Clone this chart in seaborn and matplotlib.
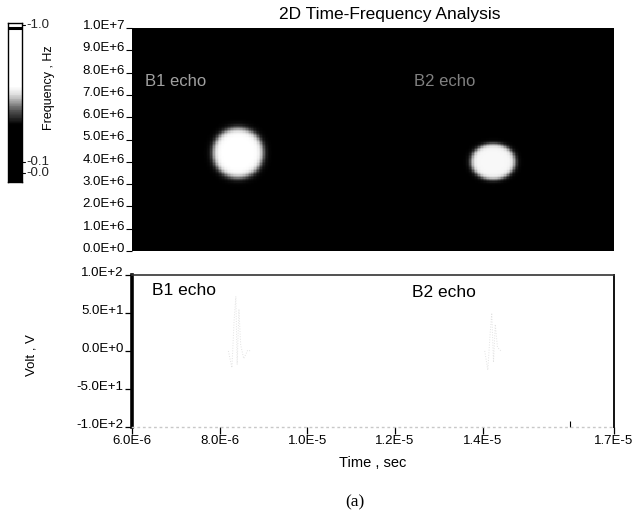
import numpy as np
import pandas as pd
import matplotlib
matplotlib.use("Agg")
import matplotlib.pyplot as plt
import matplotlib.transforms as mtransforms
from matplotlib.colors import LinearSegmentedColormap
import seaborn as sns

# ---------------- data ----------------
# time-frequency blobs (echo centres and sizes)
blob_names = ["B1 echo", "B2 echo"]
blob_time = [8.41e-6, 14.25e-6]      # sec
blob_freq = [4.40e6, 4.00e6]         # Hz
blob_rt = [0.57e-6, 0.50e-6]         # half width in time
blob_rf = [1.12e6, 0.80e6]           # half width in frequency
blob_peak = [1.0, 0.97]

# time-domain trace segments around the echoes
echo1_t = [8.20e-6, 8.28e-6, 8.33e-6, 8.37e-6, 8.40e-6, 8.44e-6, 8.48e-6, 8.55e-6, 8.64e-6, 8.72e-6]
echo1_v = [0.0, -22.0, 40.0, 72.0, -18.0, 55.0, 8.0, -10.0, 1.0, 0.0]
echo2_t = [14.05e-6, 14.12e-6, 14.17e-6, 14.21e-6, 14.25e-6, 14.29e-6, 14.34e-6, 14.42e-6]
echo2_v = [0.0, -25.0, 20.0, 50.0, -15.0, 35.0, 5.0, 0.0]

freq_ticks = [1e7, 9e6, 8e6, 7e6, 6e6, 5e6, 4e6, 3e6, 2e6, 1e6, 0.0]
freq_labels = ["1.0E+7", "9.0E+6", "8.0E+6", "7.0E+6", "6.0E+6", "5.0E+6",
               "4.0E+6", "3.0E+6", "2.0E+6", "1.0E+6", "0.0E+0"]
volt_ticks = [100, 50, 0, -50, -100]
volt_labels = ["1.0E+2", "5.0E+1", "0.0E+0", "-5.0E+1", "-1.0E+2"]
time_ticks = [6e-6, 8e-6, 1e-5, 1.2e-5, 1.4e-5, 1.7e-5]
time_labels = ["6.0E-6", "8.0E-6", "1.0E-5", "1.2E-5", "1.4E-5", "1.7E-5"]
cbar_ticks = [0.987, 0.126, 0.057]
cbar_labels = ["-1.0", "-0.1", "-0.0"]

T0, T1 = 6e-6, 1.7e-5
F0, F1 = 0.0, 1e7

# ---------------- figure ----------------
sns.set_theme(style="white")
plt.rcParams["font.family"] = ["Liberation Sans", "DejaVu Sans"]
fig = plt.figure(figsize=(6.38, 5.15), dpi=100)

ax_tf = fig.add_axes([132/638, 1-251/515, 482/638, 223/515])
ax_v = fig.add_axes([132/638, 1-427/515, 482/638, 152/515])
ax_cb = fig.add_axes([8/638, 1-182/515, 14/638, 159/515])

# --- time-frequency map via seaborn heatmap ---
nx, ny = 320, 160
tt = np.linspace(T0, T1, nx)
ff = np.linspace(F1, F0, ny)
TT, FF = np.meshgrid(tt, ff)
field = np.zeros_like(TT)
for tc, fc, rt, rf, pk in zip(blob_time, blob_freq, blob_rt, blob_rf, blob_peak):
    r = np.sqrt(((TT - tc) / rt) ** 2 + ((FF - fc) / rf) ** 2)
    field = np.maximum(field, pk / (1 + np.exp((r - 1) / 0.07)))

sns.heatmap(field, ax=ax_tf, cmap="gray", vmin=0, vmax=1, cbar=False,
            xticklabels=False, yticklabels=False, rasterized=True)

def tx(t):
    return (t - T0) / (T1 - T0) * nx

def fy(f):
    return (F1 - f) / (F1 - F0) * ny

ax_tf.set_yticks([fy(f) for f in freq_ticks])
ax_tf.set_yticklabels(freq_labels)
ax_tf.set_xticks([])
ax_tf.tick_params(axis="y", left=True, length=4, width=0.8, color="black",
                  labelsize=9.5, pad=1, labelcolor="black")
for lab in ax_tf.get_yticklabels():
    lab.set_transform(lab.get_transform() +
                      mtransforms.ScaledTranslation(0, 0.035, fig.dpi_scale_trans))
for s in ax_tf.spines.values():
    s.set_visible(False)
ax_tf.set_xlim(0, nx)
ax_tf.set_ylim(ny, 0)

ax_tf.text(tx(6.3e-6), fy(7.6e6), "B1 echo", color="#a0a0a0", fontsize=12,
           va="center", ha="left")
ax_tf.text(tx(12.43e-6), fy(7.6e6), "B2 echo", color="#808080", fontsize=12,
           va="center", ha="left")

# --- voltage trace ---
d1 = pd.DataFrame({"t": echo1_t, "v": echo1_v})
d2 = pd.DataFrame({"t": echo2_t, "v": echo2_v})
sns.lineplot(data=d1, x="t", y="v", ax=ax_v, color="#e2e2e2", lw=0.7, linestyle=":")
sns.lineplot(data=d2, x="t", y="v", ax=ax_v, color="#e2e2e2", lw=0.7, linestyle=":")
ax_v.set_xlim(T0, T1)
ax_v.set_ylim(-100, 100)
ax_v.set_xticks(time_ticks)
ax_v.set_xticklabels(time_labels)
ax_v.set_xticks([1.6e-5], minor=True)
ax_v.set_yticks(volt_ticks)
ax_v.set_yticklabels(volt_labels)
ax_v.tick_params(axis="both", which="major", length=5, width=0.9, color="black",
                 labelsize=9.5, pad=1, labelcolor="black", bottom=True, left=True)
ax_v.tick_params(axis="x", which="minor", length=4, width=0.8, direction="in",
                 color="black", bottom=True)
for lab in ax_v.get_yticklabels():
    lab.set_transform(lab.get_transform() +
                      mtransforms.ScaledTranslation(0, 0.03, fig.dpi_scale_trans))
ax_v.set_xlabel("")
ax_v.set_ylabel("")
ax_v.grid(False)
ax_v.spines["left"].set_linewidth(2.6)
ax_v.spines["left"].set_color("black")
ax_v.spines["right"].set_linewidth(1.4)
ax_v.spines["right"].set_color("#111111")
ax_v.spines["top"].set_linewidth(1.2)
ax_v.spines["top"].set_color("#333333")
ax_v.spines["bottom"].set_linewidth(1.0)
ax_v.spines["bottom"].set_color("#c8c8c8")
ax_v.spines["bottom"].set_linestyle((0, (1, 3)))

ax_v.text(6.45e-6, 80, "B1 echo", fontsize=12.5, color="black", va="center", ha="left")
ax_v.text(12.39e-6, 77, "B2 echo", fontsize=12.5, color="black", va="center", ha="left")

# --- colour bar ---
cb_cmap = LinearSegmentedColormap.from_list(
    "cb", [(0.0, "black"), (0.36, "black"), (0.45, "#555555"),
           (0.55, "#dddddd"), (0.6, "white"), (1.0, "white")])
grad = np.linspace(1, 0, 200).reshape(-1, 1)
sns.heatmap(grad, ax=ax_cb, cmap=cb_cmap, vmin=0, vmax=1, cbar=False,
            xticklabels=False, yticklabels=False, rasterized=True)
ax_cb.set_xlim(0, 1)
ax_cb.set_ylim(200, 0)
ax_cb.axhline(200 * (1 - 0.97), color="black", lw=2.2)
for s in ax_cb.spines.values():
    s.set_visible(True)
    s.set_color("black")
    s.set_linewidth(1.0)
ax_cb.set_xticks([])
ax_cb.set_yticks([])
blend = mtransforms.blended_transform_factory(ax_cb.transAxes, ax_cb.transData)
for pos, lab in zip(cbar_ticks, cbar_labels):
    ax_cb.text(1.3, 200 * (1 - pos), lab, fontsize=9.5, va="center", ha="left",
               transform=blend)
    ax_cb.plot([1.0, 1.2], [200 * (1 - pos)] * 2, color="black", lw=0.8,
               transform=blend, clip_on=False)

# --- figure texts ---
fig.text(390/638, 1-15/515, "2D Time-Frequency Analysis", fontsize=12.5,
         ha="center", va="center", color="black")
fig.text(49/638, 1-88/515, "Frequency , Hz", rotation=90, fontsize=9,
         ha="center", va="center", color="black")
fig.text(32/638, 1-355/515, "Volt , V", rotation=90, fontsize=9.5,
         ha="center", va="center", color="black")
fig.text(373/638, 1-463/515, "Time , sec", fontsize=10.5,
         ha="center", va="center", color="black")
fig.text(355/638, 1-502/515, "(a)", fontsize=12.5, family=["Liberation Serif", "DejaVu Serif"],
         ha="center", va="center", color="black")

fig.savefig("out.png", dpi=100, facecolor="white")
